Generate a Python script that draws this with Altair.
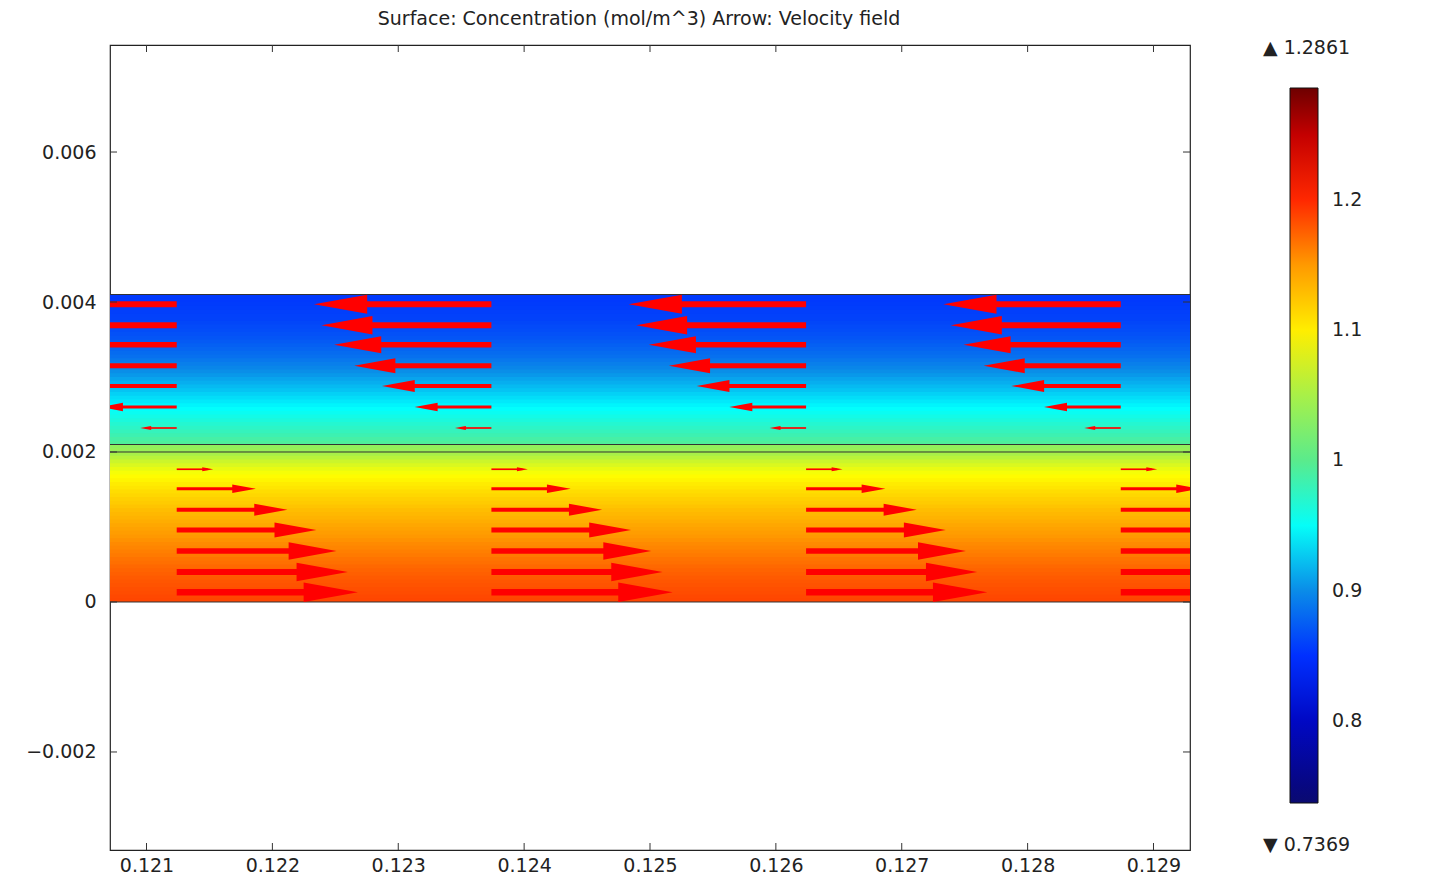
import altair as alt
import pandas as pd

# ---------------- data ----------------
x_domain = [0.12071, 0.12929]
y_domain = [-0.003307, 0.007427]
x_ticks = [0.121, 0.122, 0.123, 0.124, 0.125, 0.126, 0.127, 0.128, 0.129]
y_ticks = [-0.002, 0.0, 0.002, 0.004, 0.006]

# concentration strips (bottom edge of each 0.00005-high strip, value at its middle)
lower_y = [0.00000, 0.00005, 0.00010, 0.00015, 0.00020, 0.00025, 0.00030, 0.00035, 0.00040, 0.00045,
           0.00050, 0.00055, 0.00060, 0.00065, 0.00070, 0.00075, 0.00080, 0.00085, 0.00090, 0.00095,
           0.00100, 0.00105, 0.00110, 0.00115, 0.00120, 0.00125, 0.00130, 0.00135, 0.00140, 0.00145,
           0.00150, 0.00155, 0.00160, 0.00165, 0.00170, 0.00175, 0.00180, 0.00185, 0.00190, 0.00195,
           0.00200, 0.00205]
lower_conc = [1.187, 1.186, 1.184, 1.183, 1.181, 1.180, 1.178, 1.176, 1.174, 1.172,
              1.169, 1.167, 1.164, 1.162, 1.159, 1.157, 1.154, 1.151, 1.148, 1.145,
              1.142, 1.139, 1.135, 1.132, 1.129, 1.125, 1.121, 1.118, 1.114, 1.110,
              1.105, 1.101, 1.096, 1.092, 1.086, 1.080, 1.073, 1.066, 1.058, 1.050,
              1.040, 1.035]
upper_y = [0.00210, 0.00215, 0.00220, 0.00225, 0.00230, 0.00235, 0.00240, 0.00245, 0.00250, 0.00255,
           0.00260, 0.00265, 0.00270, 0.00275, 0.00280, 0.00285, 0.00290, 0.00295, 0.00300, 0.00305,
           0.00310, 0.00315, 0.00320, 0.00325, 0.00330, 0.00335, 0.00340, 0.00345, 0.00350, 0.00355,
           0.00360, 0.00365, 0.00370, 0.00375, 0.00380, 0.00385, 0.00390, 0.00395, 0.00400, 0.00405]
upper_conc = [0.993, 0.988, 0.983, 0.978, 0.973, 0.968, 0.963, 0.958, 0.953, 0.948,
              0.943, 0.938, 0.933, 0.928, 0.923, 0.919, 0.914, 0.910, 0.905, 0.901,
              0.897, 0.893, 0.889, 0.885, 0.882, 0.879, 0.876, 0.873, 0.870, 0.868,
              0.866, 0.864, 0.862, 0.860, 0.859, 0.858, 0.857, 0.856, 0.855, 0.855]
strip_height = 0.00005

# domain boundaries
boundaries = [0.0, 0.002, 0.0021, 0.0041]

# velocity arrows: tail x positions, row heights and x-components
arrow_cols = [0.12124, 0.12374, 0.12624, 0.12874]
upper_rows = [0.00397, 0.00369, 0.00343, 0.00315, 0.00288, 0.00260, 0.00232]
upper_dx = [-0.00141, -0.00135, -0.00125, -0.00109, -0.00087, -0.00061, -0.00029]
lower_rows = [0.00177, 0.00151, 0.00123, 0.00096, 0.00068, 0.00040, 0.00013]
lower_dx = [0.00029, 0.00063, 0.00088, 0.00111, 0.00127, 0.00136, 0.00144]

# colour bar
c_min, c_max = 0.7369, 1.2861
cbar_values = [0.8, 0.9, 1.0, 1.1, 1.2]
cmap_domain = [c_min, 0.78, 0.82, 0.85, 0.90, 0.947, 1.0, 1.05, 1.09, 1.15, 1.20, 1.24, c_max]
cmap_range = ["#0a0a70", "#0000a8", "#0010e0", "#0030ff", "#0a8ce8", "#00ffff", "#5aeb8c",
              "#a8f048", "#ffff00", "#ff9a00", "#ff2800", "#dc0000", "#6e0000"]

title_text = "Surface: Concentration (mol/m^3) Arrow: Velocity field"

# ---------------- layout ----------------
W, H = 1080, 805
FONT = "DejaVu Sans"
px_per_x = W / (x_domain[1] - x_domain[0])

xs = alt.Scale(domain=x_domain, nice=False, zero=False)
ys = alt.Scale(domain=y_domain, nice=False, zero=False)
cs = alt.Scale(domain=cmap_domain, range=cmap_range, interpolate="rgb")

# strips; each one (except the top one of a layer) overlaps the next a little to hide seams
def layer_frame(ys_, cs_):
    df = pd.DataFrame({"y0": ys_, "c": cs_})
    df["y1"] = df["y0"] + strip_height
    df.loc[df.index[:-1], "y1"] = df["y0"] + 1.6 * strip_height
    return df

strips = pd.concat([layer_frame(lower_y, lower_conc), layer_frame(upper_y, upper_conc)],
                   ignore_index=True)

xaxis = alt.Axis(values=x_ticks, format="~g", title=None, ticks=False, tickSize=0, domain=False,
                 grid=False, labelFont=FONT, labelFontSize=19, labelColor="#222", labelPadding=6)
yaxis = alt.Axis(values=y_ticks, format="~g", title=None, ticks=False, tickSize=0, domain=False,
                 grid=False, labelFont=FONT, labelFontSize=19, labelColor="#222", labelPadding=14)

surface = alt.Chart(strips).mark_rect().encode(
    x=alt.datum(x_domain[0], scale=xs, axis=xaxis, type="quantitative"),
    x2=alt.datum(x_domain[1]),
    y=alt.Y("y0:Q", scale=ys, axis=yaxis),
    y2="y1:Q",
    fill=alt.Fill("c:Q", scale=cs, legend=alt.Legend(
        type="gradient",
        orient="none", legendX=1180, legendY=43, direction="vertical",
        gradientLength=715, gradientThickness=28, title=None, values=cbar_values,
        format="~g", labelFont=FONT, labelFontSize=19, labelColor="#222", labelOffset=14,
        gradientStrokeColor="#111", gradientStrokeWidth=1, padding=0, labelOverlap=False)),
)

bdf = pd.DataFrame({"y": boundaries})
bounds = alt.Chart(bdf).mark_rule(color="#333", strokeWidth=1).encode(
    y=alt.Y("y:Q", scale=ys), x=alt.value(0), x2=alt.value(W))

# arrows
rows = []
for cx in arrow_cols:
    for yy, dx in zip(upper_rows, upper_dx):
        rows.append({"x": cx, "y": yy, "dx": dx, "dir": "left"})
    for yy, dx in zip(lower_rows, lower_dx):
        rows.append({"x": cx, "y": yy, "dx": dx, "dir": "right"})
adf = pd.DataFrame(rows)
adf["len_px"] = adf["dx"].abs() * px_per_x
adf["shaft_end"] = adf["x"] + 0.85 * adf["dx"]
adf["head_x"] = adf["x"] + 0.85 * adf["dx"]
adf["head_size"] = (0.3 * adf["len_px"]) ** 2
adf["shaft_w"] = 0.5 + 0.032 * adf["len_px"]

RED = "#ff0000"
shafts = alt.Chart(adf).mark_rule(color=RED, strokeCap="butt", clip=True).encode(
    x=alt.X("x:Q", scale=xs), x2="shaft_end:Q",
    y=alt.Y("y:Q", scale=ys),
    size=alt.Size("shaft_w:Q", scale=None, legend=None),
)
heads_left = alt.Chart(adf).transform_filter(alt.datum.dir == "left").mark_point(
    shape="M 1 -0.36 L -1 0 L 1 0.36 Z", filled=True, color=RED, opacity=1, strokeWidth=0, clip=True
).encode(
    x=alt.X("head_x:Q", scale=xs), y=alt.Y("y:Q", scale=ys),
    size=alt.Size("head_size:Q", scale=None, legend=None),
)
heads_right = alt.Chart(adf).transform_filter(alt.datum.dir == "right").mark_point(
    shape="M -1 -0.36 L 1 0 L -1 0.36 Z", filled=True, color=RED, opacity=1, strokeWidth=0, clip=True
).encode(
    x=alt.X("head_x:Q", scale=xs), y=alt.Y("y:Q", scale=ys),
    size=alt.Size("head_size:Q", scale=None, legend=None),
)

# inward ticks on all four sides
xt = pd.DataFrame({"t": x_ticks})
yt = pd.DataFrame({"t": y_ticks})
TL = 7
tick_b = alt.Chart(xt).mark_rule(color="#333").encode(
    x=alt.X("t:Q", scale=xs), y=alt.value(H), y2=alt.value(H - TL))
tick_t = alt.Chart(xt).mark_rule(color="#333").encode(
    x=alt.X("t:Q", scale=xs), y=alt.value(0), y2=alt.value(TL))
tick_l = alt.Chart(yt).mark_rule(color="#333").encode(
    y=alt.Y("t:Q", scale=ys), x=alt.value(0), x2=alt.value(TL))
tick_r = alt.Chart(yt).mark_rule(color="#333").encode(
    y=alt.Y("t:Q", scale=ys), x=alt.value(W), x2=alt.value(W - TL))

# colour range labels
ldf = pd.DataFrame({"label": ["\u25B2 " + f"{c_max:.4f}", "\u25BC " + f"{c_min:.4f}"],
                    "pos": ["top", "bottom"]})
lab_top = alt.Chart(ldf).transform_filter(alt.datum.pos == "top").mark_text(
    align="left", baseline="middle", font=FONT, fontSize=19, color="#222"
).encode(text="label:N", x=alt.value(1153), y=alt.value(3))
lab_bot = alt.Chart(ldf).transform_filter(alt.datum.pos == "bottom").mark_text(
    align="left", baseline="middle", font=FONT, fontSize=19, color="#222"
).encode(text="label:N", x=alt.value(1153), y=alt.value(800))

chart = alt.layer(
    surface, bounds, shafts, heads_left, heads_right,
    tick_b, tick_t, tick_l, tick_r, lab_top, lab_bot
).properties(
    width=W, height=H,
    title=alt.TitleParams(title_text, font=FONT, fontSize=19, fontWeight="normal",
                          color="#222", anchor="middle", offset=10, dx=-11),
    autosize=alt.AutoSizeParams(type="none"),
    padding={"left": 102, "top": 37, "right": 240, "bottom": 28},
).configure_view(stroke="#222", strokeWidth=1.2)

chart.save("out.html", embed_options={"renderer": "svg", "actions": False})
